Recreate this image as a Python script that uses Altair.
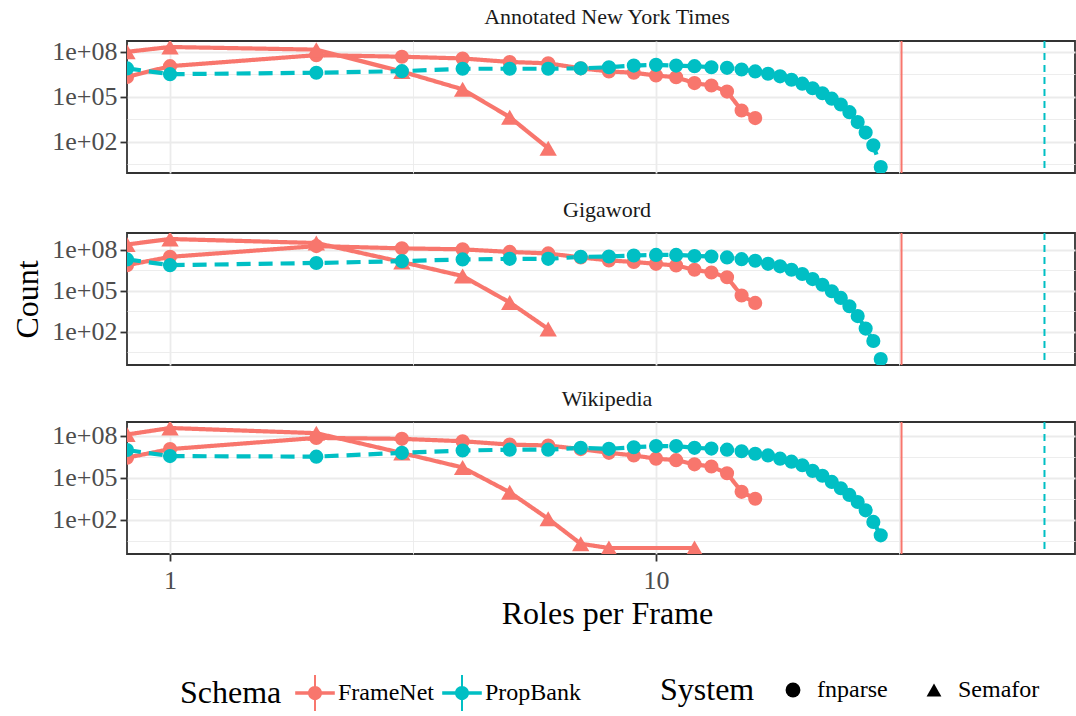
import math
import altair as alt
import pandas as pd

# ---------------- data ----------------
CORPORA = ["Annotated New York Times", "Gigaword", "Wikipedia"]
SCHEMAS = ["FrameNet", "PropBank"]
SYSTEMS = ["fnparse", "Semafor"]
SCHEMA_COLORS = ["#F8766D", "#00BFC4"]

FN_FNPARSE_ROLES = [0, 1, 2, 3, 4, 5, 6, 7, 8, 9, 10, 11, 12, 13, 14, 15, 16]
PB_FNPARSE_ROLES = [0, 1, 2, 3, 4, 5, 6, 7, 8, 9, 10, 11, 12, 13, 14, 15, 16,
                    17, 18, 19, 20, 21, 22, 23, 24, 25, 26, 27, 28, 29]
NYT_SEMAFOR_ROLES = [0, 1, 2, 3, 4, 5, 6]
GIGA_SEMAFOR_ROLES = [0, 1, 2, 3, 4, 5, 6]
WIKI_SEMAFOR_ROLES = [0, 1, 2, 3, 4, 5, 6, 7, 8, 12]

NYT_FRAMENET_FNPARSE = [2.1e6, 1.1e7, 6.0e7, 4.7e7, 3.6e7, 2.1e7, 1.7e7, 7.9e6, 4.9e6,
                        4.0e6, 2.6e6, 2.0e6, 8.1e5, 5.6e5, 2.2e5, 1.2e4, 3.7e3]
NYT_FRAMENET_SEMAFOR = [1.0e8, 2.1e8, 1.4e8, 4.8e6, 3.1e5, 4.3e3, 36]
NYT_PROPBANK_FNPARSE = [7.8e6, 3.2e6, 4.0e6, 5.1e6, 7.4e6, 7.4e6, 7.4e6, 7.9e6, 9.3e6,
                        1.2e7, 1.35e7, 1.2e7, 1.1e7, 9.3e6, 8.5e6, 6.6e6, 4.9e6, 3.4e6,
                        2.3e6, 1.35e6, 7.4e5, 3.7e5, 1.7e5, 7.4e4, 3.0e4, 9.3e3, 2.0e3,
                        400, 56, 2]

GIGA_FRAMENET_FNPARSE = [7.6e6, 3.1e7, 1.9e8, 1.3e8, 1.1e8, 7.1e7, 5.5e7, 2.8e7, 1.7e7,
                         1.3e7, 9.5e6, 7.2e6, 3.5e6, 2.2e6, 9.8e5, 4.5e4, 1.3e4]
GIGA_FRAMENET_SEMAFOR = [2.5e8, 6.3e8, 3.2e8, 1.3e7, 1.2e6, 1.4e4, 160]
GIGA_PROPBANK_FNPARSE = [2.0e7, 7.6e6, 1.1e7, 1.5e7, 2.0e7, 2.2e7, 2.2e7, 3.1e7, 3.3e7,
                         3.9e7, 4.3e7, 4.3e7, 3.6e7, 3.3e7, 2.8e7, 2.1e7, 1.6e7, 9.5e6,
                         6.2e6, 3.5e6, 1.7e6, 7.2e5, 2.8e5, 9.3e4, 3.0e4, 7.4e3, 1.4e3,
                         170, 21, 1]

WIKI_FRAMENET_FNPARSE = [2.7e6, 1.1e7, 6.9e7, 5.9e7, 4.0e7, 2.3e7, 2.0e7, 1.1e7, 6.0e6,
                         3.9e6, 2.3e6, 1.8e6, 9.1e5, 6.3e5, 2.1e5, 1.0e4, 3.2e3]
WIKI_FRAMENET_SEMAFOR = [1.2e8, 3.5e8, 1.5e8, 5.8e6, 5.4e5, 9.3e3, 120, 2, 1, 1]
WIKI_PROPBANK_FNPARSE = [9.5e6, 3.5e6, 3.2e6, 6.0e6, 8.7e6, 1.0e7, 1.0e7, 1.35e7, 1.15e7,
                         1.5e7, 1.8e7, 1.8e7, 1.35e7, 1.2e7, 1.0e7, 7.8e6, 5.1e6, 3.9e6,
                         2.3e6, 1.4e6, 7.8e5, 3.1e5, 1.4e5, 5.1e4, 1.8e4, 6.0e3, 1.9e3,
                         480, 72, 8]

# vertical reference lines (max roles per frame for each schema)
RULE_SCHEMAS = ["FrameNet", "PropBank"]
RULE_ROLES = [32, 63]

# axis ticks
X_TICKS = [1, 10]
X_TICK_LABELS = ["1", "10"]
X_MINOR = [10 ** 0.5, 10 ** 1.5]
Y_TICKS = [1e2, 1e5, 1e8]
Y_TICK_LABELS = ["1e+02", "1e+05", "1e+08"]
Y_MINOR = [10 ** 0.5, 10 ** 3.5, 10 ** 6.5]

# x-axis limits of the panel (zero roles are drawn on the left edge, like -Inf in ggplot)
X_LIMITS = [0.8156, 72.8]

FONT = "Liberation Serif"
W, H = 948, 132

# ---------------- build tables ----------------
SERIES = {
    "Annotated New York Times": [
        ("FrameNet", "fnparse", FN_FNPARSE_ROLES, NYT_FRAMENET_FNPARSE),
        ("FrameNet", "Semafor", NYT_SEMAFOR_ROLES, NYT_FRAMENET_SEMAFOR),
        ("PropBank", "fnparse", PB_FNPARSE_ROLES, NYT_PROPBANK_FNPARSE),
    ],
    "Gigaword": [
        ("FrameNet", "fnparse", FN_FNPARSE_ROLES, GIGA_FRAMENET_FNPARSE),
        ("FrameNet", "Semafor", GIGA_SEMAFOR_ROLES, GIGA_FRAMENET_SEMAFOR),
        ("PropBank", "fnparse", PB_FNPARSE_ROLES, GIGA_PROPBANK_FNPARSE),
    ],
    "Wikipedia": [
        ("FrameNet", "fnparse", FN_FNPARSE_ROLES, WIKI_FRAMENET_FNPARSE),
        ("FrameNet", "Semafor", WIKI_SEMAFOR_ROLES, WIKI_FRAMENET_SEMAFOR),
        ("PropBank", "fnparse", PB_FNPARSE_ROLES, WIKI_PROPBANK_FNPARSE),
    ],
}

# "LineSchema"/"MarkSystem" are copies used by un-legended channels, so that their
# (disabled) legends are not merged with the Schema / System legends.
rules_df = pd.DataFrame({"LineSchema": RULE_SCHEMAS, "Roles": RULE_ROLES})


def test_in(vals):
    return "indexof([" + ",".join(repr(float(v)) for v in vals) + "], datum.value) >= 0"


def label_expr(vals, labels):
    expr = "''"
    for v, lab in zip(vals, labels):
        expr = f"datum.value == {float(v)!r} ? '{lab}' : ({expr})"
    return expr


color_scale = alt.Scale(domain=SCHEMAS, range=SCHEMA_COLORS)
shape_scale = alt.Scale(domain=SYSTEMS, range=["circle", "triangle-up"])
# no explicit domain below: the sorted values give FrameNet, PropBank / Semafor, fnparse
stroke_scale = alt.Scale(range=SCHEMA_COLORS)
dash_scale = alt.Scale(range=[[1, 0], [14, 8]])
size_scale = alt.Scale(range=[300, 200])
RULE_DASHES = [[1, 0], [7, 5]]

CROSS = ("M-1.1,-0.1H1.1V0.1H-1.1Z M-0.055,-1H0.055V1H-0.055Z "
         "M0.39,0A0.39,0.39,0,1,1,-0.39,0A0.39,0.39,0,1,1,0.39,0Z")

# legend positions are relative to the top-left corner of the first panel
schema_legend = alt.Legend(
    title="Schema", orient="none", legendX=53, legendY=634, direction="horizontal",
    titleOrient="left", titleFontSize=32, titleFont=FONT, titleFontWeight="normal",
    titleColor="black", titlePadding=15, labelFontSize=24, labelFont=FONT,
    labelColor="black", symbolType=CROSS, symbolSize=1296, symbolStrokeWidth=0,
    symbolOpacity=1, labelOffset=5, columnPadding=8,
)
system_legend = alt.Legend(
    title="System", orient="none", legendX=533, legendY=637, direction="horizontal",
    titleOrient="left", titleFontSize=32, titleFont=FONT, titleFontWeight="normal",
    titleColor="black", titlePadding=26, labelFontSize=24, labelFont=FONT,
    labelColor="black", symbolSize=220, symbolFillColor="black",
    symbolStrokeColor="black", symbolStrokeWidth=0, symbolOpacity=1,
    labelOffset=12, columnPadding=34,
)

x_major = test_in(X_TICKS)
y_major = test_in(Y_TICKS)


def x_axis(bottom):
    common = dict(
        values=X_TICKS + X_MINOR, grid=True, gridColor="#EBEBEB",
        gridWidth={"condition": {"test": x_major, "value": 1.8}, "value": 0.9},
        domain=False, labelOverlap=False,
    )
    if bottom:
        return alt.Axis(
            labelExpr=label_expr(X_TICKS, X_TICK_LABELS), labels=True, ticks=True,
            tickColor={"condition": {"test": x_major, "value": "#333333"}, "value": "transparent"},
            tickSize=7, tickWidth=1.8, labelFontSize=26, labelFont=FONT,
            labelColor="#4D4D4D", labelPadding=6, labelFlush=False,
            title="Roles per Frame", titleFontSize=32, titleFont=FONT,
            titleFontWeight="normal", titleColor="black", titlePadding=5,
            titleX=480, **common)
    return alt.Axis(labels=False, ticks=False, title=None, **common)


def y_axis(title):
    kw = dict(
        values=Y_TICKS + Y_MINOR, labelExpr=label_expr(Y_TICKS, Y_TICK_LABELS),
        grid=True, gridColor="#EBEBEB",
        gridWidth={"condition": {"test": y_major, "value": 1.8}, "value": 0.9},
        tickColor={"condition": {"test": y_major, "value": "#333333"}, "value": "transparent"},
        tickSize=7, tickWidth=1.8, domain=False, labelOverlap=False,
        labelFontSize=26, labelFont=FONT, labelColor="#4D4D4D", labelPadding=3,
    )
    if title:
        return alt.Axis(title=title, titleFontSize=32, titleFont=FONT,
                        titleFontWeight="normal", titleColor="black", titlePadding=7, **kw)
    return alt.Axis(title=None, **kw)


panels = []
for i, corpus in enumerate(CORPORA):
    recs = []
    for schema, system, roles, counts in SERIES[corpus]:
        for r, c in zip(roles, counts):
            recs.append({"Schema": schema, "System": system,
                         "LineSchema": schema, "MarkSystem": system,
                         "Roles": r if r > 0 else X_LIMITS[0], "Count": c})
    df = pd.DataFrame(recs)
    lo = math.log10(df["Count"].min())
    hi = math.log10(df["Count"].max())
    span = hi - lo
    ydom = [10 ** (lo - 0.05 * span), 10 ** (hi + 0.05 * span)]

    xs = alt.Scale(type="log", domain=X_LIMITS, nice=False)
    ys = alt.Scale(type="log", domain=ydom, nice=False)
    bottom = i == len(CORPORA) - 1
    xenc = alt.X("Roles:Q", scale=xs, axis=x_axis(bottom))
    yenc = alt.Y("Count:Q", scale=ys, axis=y_axis("Count" if i == 1 else None))

    base = alt.Chart(df)
    lines = base.mark_line(strokeWidth=4.2, clip=True).encode(
        x=xenc, y=yenc,
        stroke=alt.Stroke("LineSchema:N", scale=stroke_scale, legend=None),
        strokeDash=alt.StrokeDash("LineSchema:N", scale=dash_scale, legend=None),
        detail="System:N",
    )
    points = base.mark_point(filled=True, opacity=1, strokeWidth=0, clip=True).encode(
        x=xenc, y=yenc,
        color=alt.Color("Schema:N", scale=color_scale, legend=schema_legend),
        shape=alt.Shape("System:N", scale=shape_scale, legend=system_legend),
        size=alt.Size("MarkSystem:N", scale=size_scale, legend=None),
    )
    rule_layers = []
    for schema, dash in zip(SCHEMAS, RULE_DASHES):
        rule_layers.append(
            alt.Chart(rules_df).transform_filter(alt.datum.LineSchema == schema)
            .mark_rule(strokeWidth=2, strokeDash=dash)
            .encode(x=alt.X("Roles:Q", scale=xs),
                    stroke=alt.Stroke("LineSchema:N", scale=stroke_scale, legend=None))
        )
    panel = alt.layer(lines, points, *rule_layers).properties(
        width=W, height=H,
        title=alt.TitleParams(text=corpus, fontSize=22, font=FONT, color="#1A1A1A",
                              fontWeight="normal", anchor="middle", offset=10, dx=6),
    )
    panels.append(panel)

chart = (
    alt.vconcat(*panels, spacing=20)
    .properties(padding={"left": 10, "top": 4, "right": 0, "bottom": 0})
    .configure(font=FONT)
    .configure_view(stroke="#333333", strokeWidth=1.8)
)

chart.save("out.html", embed_options={"renderer": "svg", "actions": False})
